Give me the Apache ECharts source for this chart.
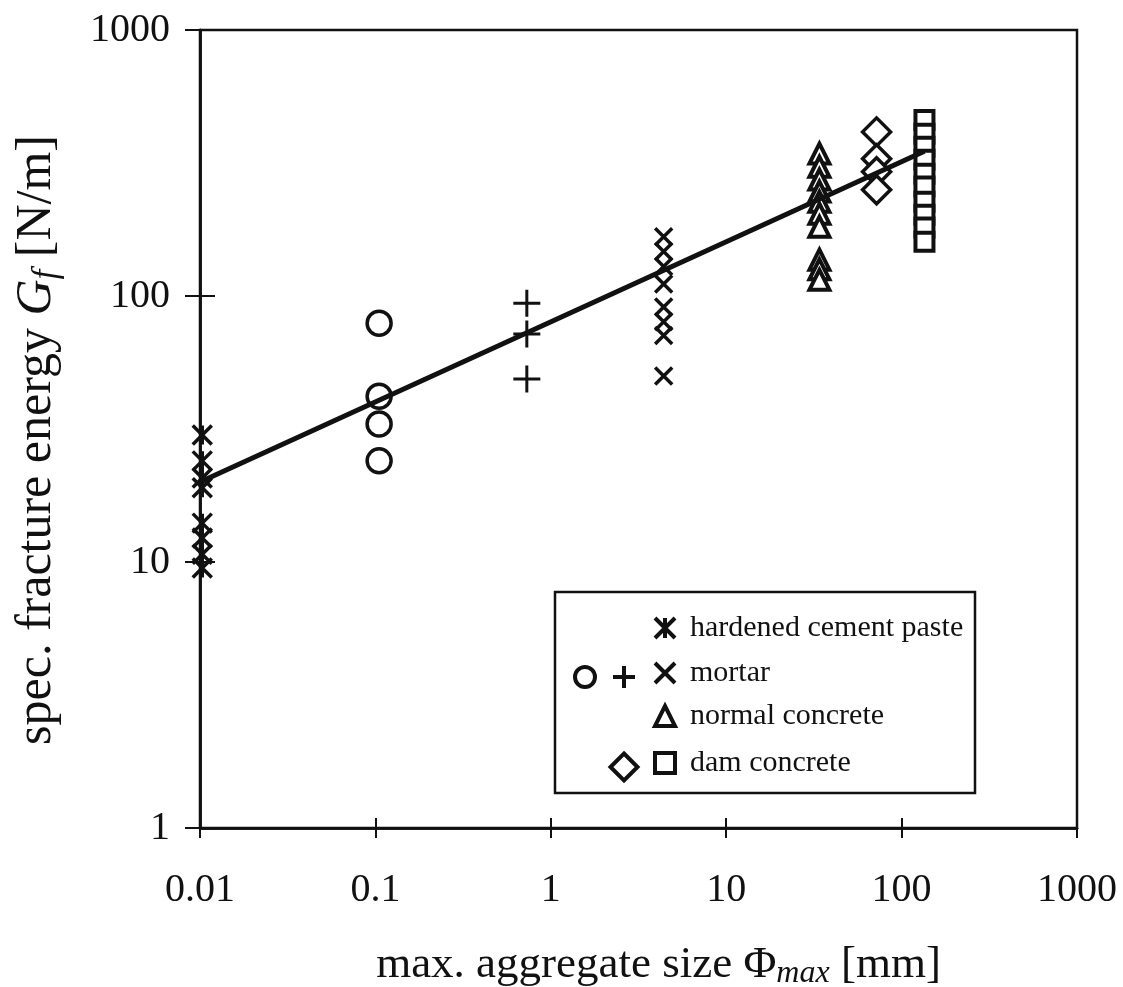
<!DOCTYPE html>
<html>
<head>
<meta charset="utf-8">
<script src="https://cdn.jsdelivr.net/npm/echarts@6/dist/echarts.min.js"></script>
<style>html,body{margin:0;background:#fff}#main{width:1123px;height:987px}</style>
</head>
<body>
<div id="main"></div>
<script>
const ink = '#111';
const serif = '"Liberation Serif", "DejaVu Serif", serif';

// max. aggregate size of each group [mm]
const pasteSize = 0.0103;
const circleSize = 0.105;
const plusSize = 0.73;
const crossSize = 4.4;
const normalSize = 34;
const diamondSize = 72;
const squareSize = 135;

// spec. fracture energy Gf [N/m]
const pasteGf = [30, 24, 20.7, 19, 14, 12.3, 10.7, 9.5];
const circleGf = [79, 42, 33, 24];
const plusGf = [94, 72, 48.7];
const crossGf = [167, 147, 129, 111, 91, 80, 71, 50];
const normalGf = [343, 306, 274, 247, 226, 204, 182, 137, 126, 115];
const diamondGf = [414, 328, 293, 251];
const squareGf = [459, 407, 364, 325, 288, 258, 226, 202, 181, 160];

// regression line end points
const fitSize = [0.01, 135];
const fitGf = [20, 350];

const pair = (x, ys) => ys.map(y => [x, y]);

const asterisk = 'path://M0,0L10,10M10,0L0,10M5,0L5,10';
const plus = 'path://M5,0L5,10M0,5L10,5';
const cross = 'path://M0,0L10,10M10,0L0,10';

function pts(name, symbol, size, x, ys, hollow, bw) {
    return {
        name, type: 'scatter', symbol, symbolSize: size,
        data: pair(x, ys),
        itemStyle: {color: hollow ? '#fff' : 'transparent', borderColor: ink, borderWidth: bw, opacity: 1},
        emphasis: {disabled: true}
    };
}

// one legend per symbol so each can sit in its own column
function leg(name, cx, cy, text, size) {
    const s = size || 20;
    return {
        data: [name], left: cx - s / 2, top: cy - (text ? 17 : s / 2),
        itemWidth: s, itemHeight: s, padding: 0, selectedMode: false,
        itemStyle: {borderWidth: 4},
        formatter: text ? (n => n) : (() => ''),
        textStyle: {fontFamily: serif, fontSize: 30, color: ink, padding: [0, 0, 0, 10]}
    };
}

const fmt = v => String(parseFloat(Number(v).toPrecision(3)));

const axisBase = {
    type: 'log', logBase: 10,
    axisLine: {lineStyle: {color: ink, width: 2.5}},
    splitLine: {show: false},
    minorTick: {show: false}
};

const gridBox = {left: 200, right: 46, top: 30, bottom: 159, containLabel: false, outerBoundsMode: 'none'};

const myChart = echarts.init(document.getElementById('main'), null, {renderer: 'canvas'});
myChart.setOption({
    backgroundColor: '#fff',
    animation: false,
    grid: [
        Object.assign({show: true, borderColor: ink, borderWidth: 2.5}, gridBox),
        Object.assign({}, gridBox)
    ],
    xAxis: [
        Object.assign({}, axisBase, {
            gridIndex: 0, min: 0.01, max: 1000, interval: 1,
            axisTick: {length: 10, lineStyle: {color: ink, width: 2}},
            axisLabel: {fontFamily: serif, fontSize: 40, color: ink, margin: 42, formatter: fmt},
            name: '{t|max. aggregate size Φ}{s|max}{t| [mm]}',
            nameLocation: 'middle', nameGap: 112,
            nameTextStyle: {
                color: ink, padding: [0, 0, 0, 40],
                rich: {
                    t: {fontFamily: serif, fontSize: 45, color: ink, lineHeight: 50},
                    s: {fontFamily: serif, fontSize: 32, fontStyle: 'italic', color: ink, verticalAlign: 'bottom', lineHeight: 28}
                }
            }
        }),
        Object.assign({}, axisBase, {
            gridIndex: 1, min: 0.01, max: 1000, interval: 1,
            axisTick: {inside: true, length: 10, lineStyle: {color: ink, width: 2}},
            axisLabel: {show: false}
        })
    ],
    yAxis: [
        Object.assign({}, axisBase, {
            gridIndex: 0, min: 1, max: 1000, interval: 1,
            axisTick: {length: 15, lineStyle: {color: ink, width: 2}},
            axisLabel: {fontFamily: serif, fontSize: 40, color: ink, margin: 30, formatter: fmt},
            name: '{t|spec. fracture energy }{i|G}{s|f}{t| [N/m]}',
            nameLocation: 'middle', nameGap: 136, nameRotate: 90,
            nameTextStyle: {
                color: ink, padding: [0, 22, 0, 0],
                rich: {
                    t: {fontFamily: serif, fontSize: 50, color: ink, lineHeight: 54},
                    i: {fontFamily: serif, fontSize: 50, fontStyle: 'italic', color: ink, lineHeight: 54},
                    s: {fontFamily: serif, fontSize: 35, fontStyle: 'italic', color: ink, verticalAlign: 'bottom', lineHeight: 30}
                }
            }
        }),
        Object.assign({}, axisBase, {
            gridIndex: 1, min: 1, max: 1000, interval: 1,
            axisTick: {inside: true, length: 15, lineStyle: {color: ink, width: 2}},
            axisLabel: {show: false}
        })
    ],
    graphic: [{
        type: 'rect', z: 3,
        shape: {x: 555, y: 592, width: 420, height: 201},
        style: {fill: '#fff', stroke: ink, lineWidth: 2.5}
    }],
    legend: [
        leg('hardened cement paste', 663, 630, true),
        leg('mortar o', 583, 675, false),
        leg('mortar +', 622, 675, false, 22),
        leg('mortar', 663, 675, true),
        leg('normal concrete', 663, 718, true),
        leg('dam concrete ◇', 622, 765, false, 27),
        leg('dam concrete', 663, 765, true)
    ],
    series: [
        pts('hardened cement paste', asterisk, 19, pasteSize, pasteGf, false, 3.5),
        pts('mortar o', 'circle', 24, circleSize, circleGf, true, 3.5),
        pts('mortar +', plus, 27, plusSize, plusGf, false, 3),
        pts('mortar', cross, 17, crossSize, crossGf, false, 3.5),
        pts('normal concrete', 'triangle', 20, normalSize, normalGf, true, 4),
        pts('dam concrete ◇', 'diamond', 28, diamondSize, diamondGf, true, 3.5),
        pts('dam concrete', 'rect', 18, squareSize, squareGf, true, 4),
        {
            type: 'line', data: fitSize.map((x, i) => [x, fitGf[i]]),
            symbol: 'none', lineStyle: {color: ink, width: 5}, z: 5,
            emphasis: {disabled: true}
        },
        // empty series so the inside-tick axes get drawn
        {type: 'scatter', xAxisIndex: 1, yAxisIndex: 1, data: [], silent: true}
    ]
});
</script>
</body>
</html>
